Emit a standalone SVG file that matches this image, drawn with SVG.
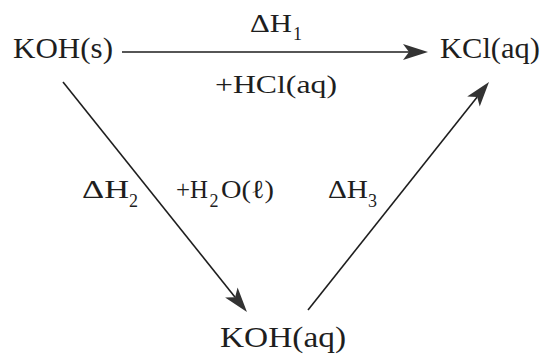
<svg xmlns="http://www.w3.org/2000/svg" width="545" height="356" viewBox="0 0 545 356">
<defs>
<style>
.sp{font-family:"Liberation Serif","Times New Roman",serif;font-size:30px;fill:#1e1e1e}
.lb{font-family:"Liberation Serif","Times New Roman",serif;font-size:26px;fill:#1e1e1e}
.sb{font-size:18px}
.ln{stroke:#1e1e1e;stroke-width:1.6;fill:none;marker-end:url(#ah)}
</style>
<marker id="ah" markerUnits="userSpaceOnUse" viewBox="-7 -9 27 18" markerWidth="27" markerHeight="18" refX="0" refY="0" orient="auto">
<path d="M19,0 L-6,-8 L0,0 L-6,8 Z" fill="#333"/>
</marker>
</defs>
<rect width="545" height="356" fill="#ffffff"/>
<g id="connectors">
<line class="ln" x1="122" y1="52" x2="409" y2="52"/>
<line class="ln" x1="63" y1="82" x2="235.1" y2="297.2"/>
<line class="ln" x1="308" y1="310" x2="477.2" y2="96.9"/>
</g>
<g id="KOH_s"><text class="sp" x="13" y="58" textLength="100" lengthAdjust="spacingAndGlyphs">KOH(s)</text></g>
<g id="KCl_aq"><text class="sp" x="440" y="58" textLength="100" lengthAdjust="spacingAndGlyphs">KCl(aq)</text></g>
<g id="KOH_aq"><text class="sp" x="220" y="347" textLength="126" lengthAdjust="spacingAndGlyphs">KOH(aq)</text></g>
<g id="label_dH1">
<text class="lb" y="32"><tspan x="250" textLength="42" lengthAdjust="spacingAndGlyphs">ΔH</tspan><tspan class="sb" x="293" dy="8">1</tspan></text>
</g>
<g id="label_HCl"><text class="lb" x="215" y="93" textLength="122" lengthAdjust="spacingAndGlyphs">+HCl(aq)</text></g>
<g id="label_dH2">
<text class="lb" y="198"><tspan x="82" textLength="47" lengthAdjust="spacingAndGlyphs">ΔH</tspan><tspan class="sb" x="129" dy="9">2</tspan></text>
</g>
<g id="label_H2O">
<text class="lb" y="198"><tspan x="176" textLength="32" lengthAdjust="spacingAndGlyphs">+H</tspan><tspan class="sb" x="209.5" dy="9">2</tspan><tspan x="221" dy="-9" textLength="53" lengthAdjust="spacingAndGlyphs">O(ℓ)</tspan></text>
</g>
<g id="label_dH3">
<text class="lb" y="198"><tspan x="328" textLength="40" lengthAdjust="spacingAndGlyphs">ΔH</tspan><tspan class="sb" x="368" dy="9">3</tspan></text>
</g>
</svg>
